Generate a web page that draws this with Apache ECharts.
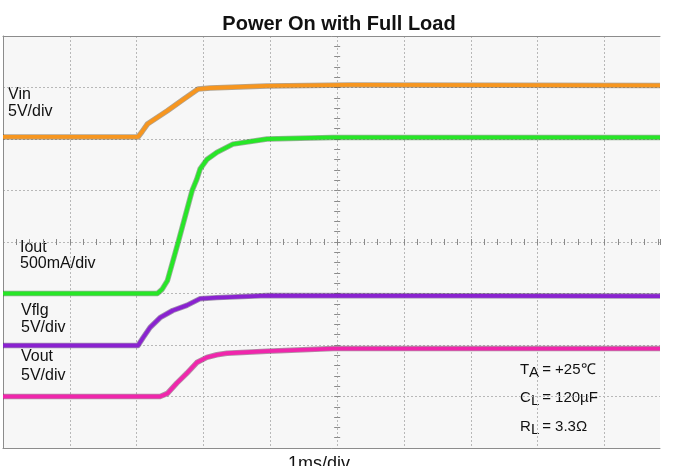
<!DOCTYPE html>
<html>
<head>
<meta charset="utf-8">
<title>Power On with Full Load</title>
<script src="https://cdn.jsdelivr.net/npm/echarts@6/dist/echarts.min.js"></script>
<style>
  html, body { margin: 0; padding: 0; background: #fff; }
  #main { width: 678px; height: 466px; }
</style>
</head>
<body>
<div id="main"></div>
<script>
// time in ms from screen centre (1ms/div), level in divisions from screen centre
var vinTime  = [-5, -2.98, -2.92, -2.84, -2.54, -2.31, -2.08, -1.90, -1.05, 0.19, 4.83];
var vinLevel = [2.04, 2.04, 2.14, 2.29, 2.55, 2.76, 2.97, 2.99, 3.03, 3.05, 3.04];

var ioutTime  = [-5, -2.69, -2.62, -2.54, -2.38, -2.17, -2.10, -2.05, -1.95, -1.80, -1.56, -1.05, -0.06, 4.83];
var ioutLevel = [-1.0, -1.0, -0.92, -0.75, -0.01, 1.0, 1.22, 1.42, 1.6, 1.74, 1.9, 2.0, 2.03, 2.03];

var vflgTime  = [-5, -2.98, -2.90, -2.80, -2.65, -2.46, -2.25, -2.05, -1.80, -1.05, 4.83];
var vflgLevel = [-2.01, -2.01, -1.85, -1.66, -1.47, -1.33, -1.23, -1.10, -1.08, -1.04, -1.05];

var voutTime  = [-5, -2.65, -2.54, -2.40, -2.25, -2.10, -1.95, -1.80, -1.65, -1.05, -0.06, 4.83];
var voutLevel = [-3.0, -3.0, -2.94, -2.74, -2.55, -2.34, -2.24, -2.19, -2.16, -2.12, -2.07, -2.07];

var traceNames  = ["Vin", "Iout", "Vflg", "Vout"];
var traceColors = ["#f7961f", "#27e627", "#8a22d0", "#f026ac"];
var edgeColors  = ["#5e3f14", "#1c5c1c", "#350c58", "#5c0f40"];

var FONT = "'Liberation Sans', Arial, Helvetica, sans-serif";

function pairs(t, v) {
  return t.map(function (x, i) { return [x, v[i]]; });
}

var traces = [
  pairs(vinTime, vinLevel),
  pairs(ioutTime, ioutLevel),
  pairs(vflgTime, vflgLevel),
  pairs(voutTime, voutLevel)
];

var series = [];
traces.forEach(function (d, i) {
  // dark fuzzy edge under the trace
  series.push({
    name: traceNames[i] + " edge",
    type: "line",
    data: d,
    symbol: "none",
    smooth: false,
    silent: true,
    lineStyle: { color: edgeColors[i], width: 5.5, opacity: 0.45, join: "round" },
    z: 3
  });
  series.push({
    name: traceNames[i],
    type: "line",
    data: d,
    symbol: "none",
    smooth: false,
    lineStyle: { color: traceColors[i], width: 3.8, join: "round" },
    z: 4
  });
});

function centreAxis(pos, min, max) {
  return {
    type: "value",
    position: pos,
    min: min,
    max: max,
    interval: 1,
    axisLine: { show: true, onZero: true, onZeroAxisIndex: 0, lineStyle: { opacity: 0 } },
    axisTick: { show: true, inside: false, length: 3, lineStyle: { color: "#8a8a8a" } },
    minorTick: { show: true, splitNumber: 5, length: 3, lineStyle: { color: "#8a8a8a" } },
    axisLabel: { show: false },
    splitLine: { show: false }
  };
}

function borderAxis(pos, min, max) {
  return {
    type: "value",
    position: pos,
    min: min,
    max: max,
    interval: 1,
    axisLine: { show: true, onZero: false, lineStyle: { color: "#8c8c8c", width: 1 } },
    axisTick: { show: false },
    axisLabel: { show: false },
    splitLine: { show: false }
  };
}

var xA = centreAxis("bottom", -5, 4.83);
xA.splitLine = { show: true, showMaxLine: false, lineStyle: { color: "#b8b8b8", type: [2, 2], width: 1 } };
var yA = centreAxis("left", -4, 4);
yA.splitLine = { show: true, lineStyle: { color: "#b8b8b8", type: [2, 2], width: 1 } };

var myChart = echarts.init(document.getElementById("main"), null, { renderer: "canvas" });

myChart.setOption({
  animation: false,
  backgroundColor: "#ffffff",
  title: {
    text: "Power On with Full Load",
    left: "center",
    top: 9,
    textStyle: { fontFamily: FONT, fontSize: 20, fontWeight: "bold", color: "#111" }
  },
  grid: {
    show: true,
    left: 3,
    right: 18,
    top: 36,
    bottom: 18,
    backgroundColor: "#f7f7f7",
    borderWidth: 0
  },
  xAxis: [
    xA,
    centreAxis("top", -5, 4.83),
    borderAxis("top", -5, 4.83),
    borderAxis("bottom", -5, 4.83)
  ],
  yAxis: [
    yA,
    centreAxis("right", -4, 4),
    borderAxis("left", -4, 4)
  ],
  series: series,
  graphic: [
    { type: "text", style: { text: "Vin", x: 8, y: 95, font: "16px " + FONT, fill: "#111", textVerticalAlign: "middle", verticalAlign: "middle" } },
    { type: "text", style: { text: "5V/div", x: 8, y: 112, font: "16px " + FONT, fill: "#111", textVerticalAlign: "middle", verticalAlign: "middle" } },
    { type: "text", style: { text: "Iout", x: 20, y: 248, font: "16px " + FONT, fill: "#111", textVerticalAlign: "middle", verticalAlign: "middle" } },
    { type: "text", style: { text: "500mA/div", x: 20, y: 264, font: "16px " + FONT, fill: "#111", textVerticalAlign: "middle", verticalAlign: "middle" } },
    { type: "text", style: { text: "Vflg", x: 21, y: 311, font: "16px " + FONT, fill: "#111", textVerticalAlign: "middle", verticalAlign: "middle" } },
    { type: "text", style: { text: "5V/div", x: 21, y: 328, font: "16px " + FONT, fill: "#111", textVerticalAlign: "middle", verticalAlign: "middle" } },
    { type: "text", style: { text: "Vout", x: 21, y: 357, font: "16px " + FONT, fill: "#111", textVerticalAlign: "middle", verticalAlign: "middle" } },
    { type: "text", style: { text: "5V/div", x: 21, y: 376, font: "16px " + FONT, fill: "#111", textVerticalAlign: "middle", verticalAlign: "middle" } },

    { type: "text", style: { text: "T", x: 520, y: 370, font: "15px " + FONT, fill: "#111", textVerticalAlign: "middle", verticalAlign: "middle" } },
    { type: "text", style: { text: "A", x: 529, y: 373, font: "15px " + FONT, fill: "#111", textVerticalAlign: "middle", verticalAlign: "middle" } },
    { type: "text", style: { text: " = +25℃", x: 538, y: 370, font: "15px " + FONT, fill: "#111", textVerticalAlign: "middle", verticalAlign: "middle" } },
    { type: "text", style: { text: "C", x: 520, y: 398, font: "15px " + FONT, fill: "#111", textVerticalAlign: "middle", verticalAlign: "middle" } },
    { type: "text", style: { text: "L", x: 531, y: 401, font: "15px " + FONT, fill: "#111", textVerticalAlign: "middle", verticalAlign: "middle" } },
    { type: "text", style: { text: " = 120µF", x: 538, y: 398, font: "15px " + FONT, fill: "#111", textVerticalAlign: "middle", verticalAlign: "middle" } },
    { type: "text", style: { text: "R", x: 520, y: 427, font: "15px " + FONT, fill: "#111", textVerticalAlign: "middle", verticalAlign: "middle" } },
    { type: "text", style: { text: "L", x: 531, y: 430, font: "15px " + FONT, fill: "#111", textVerticalAlign: "middle", verticalAlign: "middle" } },
    { type: "text", style: { text: " = 3.3Ω", x: 538, y: 427, font: "15px " + FONT, fill: "#111", textVerticalAlign: "middle", verticalAlign: "middle" } },

    { type: "text", style: { text: "1ms/div", x: 288, y: 455, font: "18px " + FONT, fill: "#111", textVerticalAlign: "top", verticalAlign: "top" } }
  ]
});

window.onresize = function () {
  myChart.resize();
};
</script>
</body>
</html>
